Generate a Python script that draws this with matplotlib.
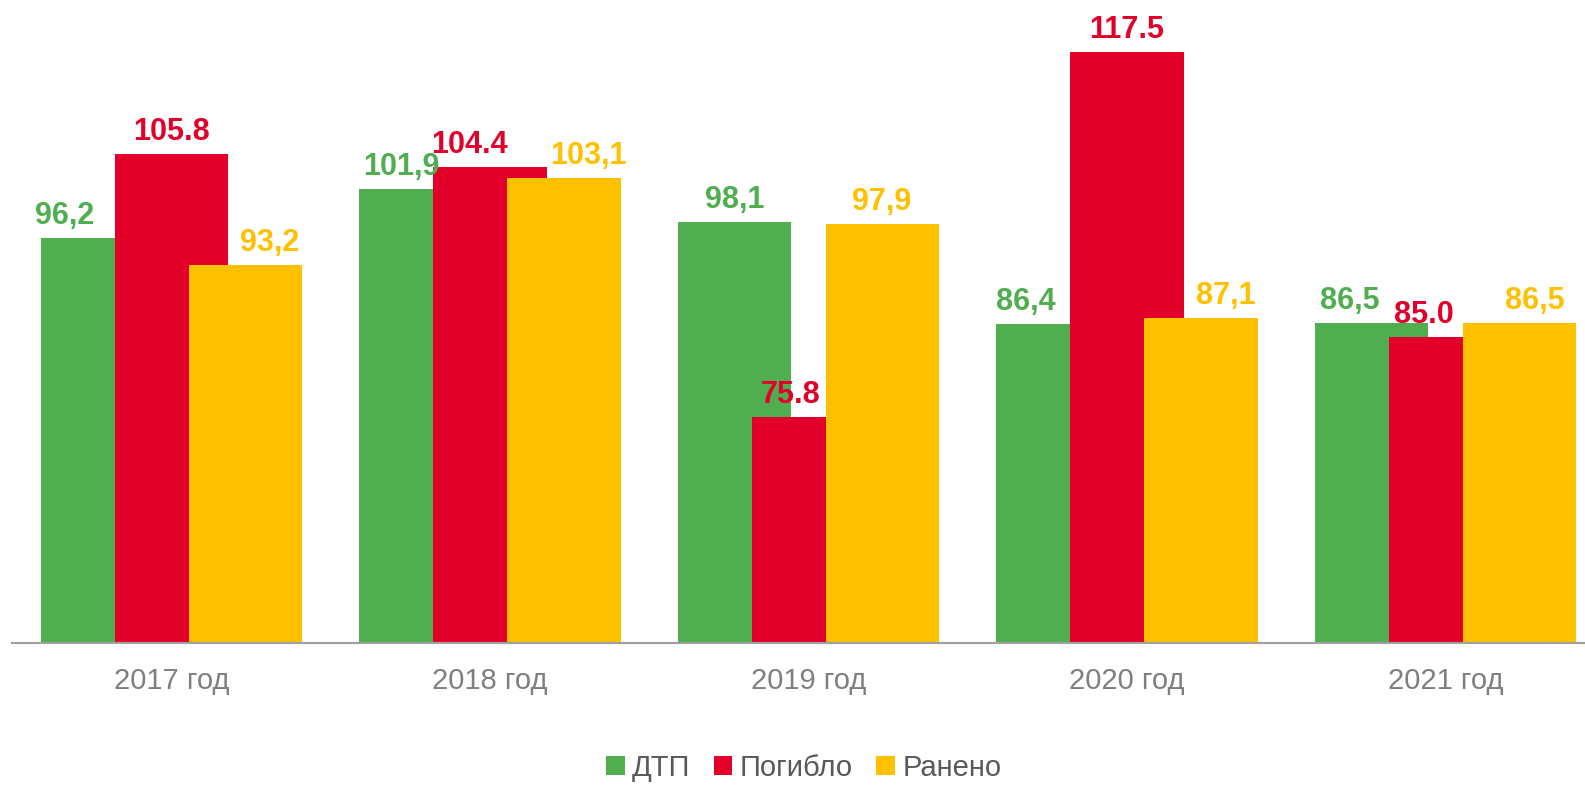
import numpy as np
import matplotlib
matplotlib.use('Agg')
import matplotlib.pyplot as plt

plt.rcParams.update({
    'font.family': ['Liberation Sans', 'DejaVu Sans'],
    'figure.facecolor': 'white',
    'axes.facecolor': 'white',
})

# ── data ────────────────────────────────────────────────────────────────
YEARS = ['2017 год', '2018 год', '2019 год', '2020 год', '2021 год']
SERIES = ['ДТП', 'Погибло', 'Ранено']
DTP = [96.2, 101.9, 98.1, 86.4, 86.5]
POGIBLO = [105.8, 104.4, 75.8, 117.5, 85.0]
RANENO = [93.2, 103.1, 97.9, 87.1, 86.5]
DTP_LABELS = ['96,2', '101,9', '98,1', '86,4', '86,5']
POGIBLO_LABELS = ['105.8', '104.4', '75.8', '117.5', '85.0']
RANENO_LABELS = ['93,2', '103,1', '97,9', '87,1', '86,5']

# ── layout ──────────────────────────────────────────────────────────────
COLORS = ['#50AE50', '#E2002B', '#FFC000']
BAR_W = 0.355
STEP = 0.2323
# horizontal shift of each value label (in category units)
LABEL_DX = [
    [-0.334, -0.28, -0.23, -0.317, -0.30],
    [0.0, -0.066, -0.055, 0.0, -0.068],
    [0.309, 0.31, 0.23, 0.31, 0.28],
]

W, H = 1585, 786
fig = plt.figure(figsize=(W / 100, H / 100), dpi=100)
ax = fig.add_axes([12.25 / W, (H - 643) / H, 5 * 318.5 / W, 613 / H])

x = np.arange(len(YEARS))
values = [DTP, POGIBLO, RANENO]
labels = [DTP_LABELS, POGIBLO_LABELS, RANENO_LABELS]
handles = []
for i, (vals, col) in enumerate(zip(values, COLORS)):
    xs = x + (i - 1) * STEP
    h = ax.bar(xs, vals, width=BAR_W, color=col, zorder=2 + i, label=SERIES[i])
    handles.append(h)
    for j, v in enumerate(vals):
        ax.annotate(labels[i][j], (x[j] + LABEL_DX[i][j], v),
                    xytext=(0, 5), textcoords='offset points',
                    ha='center', va='bottom', fontsize=22, fontweight='bold',
                    color=col, zorder=10)

ax.set_xlim(-0.5, 4.5)
ax.set_ylim(50, 120)
ax.set_xticks(x)
ax.set_xticklabels(YEARS, fontsize=21, color='#7F7F7F')
ax.tick_params(axis='x', length=0, pad=17)
ax.set_yticks([])
for s in ['top', 'right', 'left']:
    ax.spines[s].set_visible(False)
ax.spines['bottom'].set_color('#A0A0A0')
ax.spines['bottom'].set_linewidth(1.5)
ax.spines['bottom'].set_zorder(20)

leg = fig.legend(handles=handles, labels=SERIES, loc='center',
                 bbox_to_anchor=(0.507, 1 - 768 / H), ncol=3, frameon=False,
                 fontsize=21, handlelength=0.65, handleheight=0.65,
                 handletextpad=0.25, columnspacing=0.8)
for t in leg.get_texts():
    t.set_color('#595959')

fig.savefig('out.png', dpi=100)
